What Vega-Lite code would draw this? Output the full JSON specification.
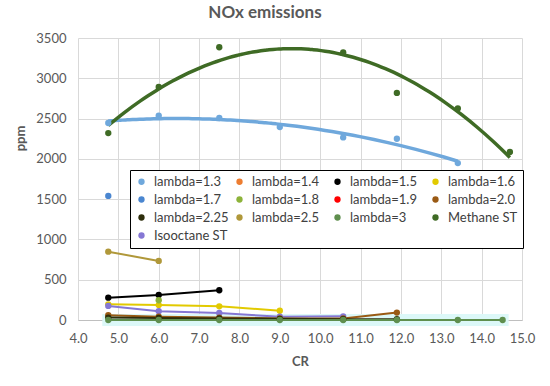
{
  "$schema": "https://vega.github.io/schema/vega-lite/v6.json",
  "width": 444,
  "height": 282,
  "autosize": "none",
  "padding": {"left": 78, "top": 38, "right": 28, "bottom": 66},
  "background": "white",
  "title": {"text": "NOx emissions", "fontSize": 17, "font": "Lato", "fontWeight": "bold", "color": "#595959", "anchor": "middle", "dx": -35, "offset": 10},
  "data": {"values": [
    {"s": "lambda=1.3", "x": 4.75, "y": 2445}, {"s": "lambda=1.3", "x": 6.0, "y": 2536}, {"s": "lambda=1.3", "x": 7.5, "y": 2507}, {"s": "lambda=1.3", "x": 9.0, "y": 2395}, {"s": "lambda=1.3", "x": 10.57, "y": 2266}, {"s": "lambda=1.3", "x": 11.9, "y": 2250}, {"s": "lambda=1.3", "x": 13.41, "y": 1948},
    {"s": "Methane ST", "x": 4.75, "y": 2320}, {"s": "Methane ST", "x": 6.0, "y": 2893}, {"s": "Methane ST", "x": 7.5, "y": 3385}, {"s": "Methane ST", "x": 10.57, "y": 3322}, {"s": "Methane ST", "x": 11.9, "y": 2818}, {"s": "Methane ST", "x": 13.41, "y": 2626}, {"s": "Methane ST", "x": 14.7, "y": 2085},
    {"s": "lambda=1.7", "x": 4.75, "y": 1540},
    {"s": "lambda=2.5", "x": 4.75, "y": 848}, {"s": "lambda=2.5", "x": 6.0, "y": 733},
    {"s": "lambda=1.5", "x": 4.75, "y": 277}, {"s": "lambda=1.5", "x": 6.0, "y": 311}, {"s": "lambda=1.5", "x": 7.5, "y": 369},
    {"s": "lambda=1.6", "x": 4.75, "y": 195}, {"s": "lambda=1.6", "x": 6.0, "y": 185}, {"s": "lambda=1.6", "x": 7.5, "y": 170}, {"s": "lambda=1.6", "x": 9.0, "y": 115},
    {"s": "lambda=1.8", "x": 6.0, "y": 245},
    {"s": "Isooctane ST", "x": 4.75, "y": 175}, {"s": "Isooctane ST", "x": 6.0, "y": 110}, {"s": "Isooctane ST", "x": 7.5, "y": 88}, {"s": "Isooctane ST", "x": 9.0, "y": 40}, {"s": "Isooctane ST", "x": 10.57, "y": 45},
    {"s": "lambda=2.0", "x": 4.75, "y": 60}, {"s": "lambda=2.0", "x": 6.0, "y": 40}, {"s": "lambda=2.0", "x": 7.5, "y": 30}, {"s": "lambda=2.0", "x": 9.0, "y": 20}, {"s": "lambda=2.0", "x": 10.57, "y": 20}, {"s": "lambda=2.0", "x": 11.9, "y": 92},
    {"s": "lambda=2.25", "x": 4.75, "y": 30}, {"s": "lambda=2.25", "x": 6.0, "y": 25}, {"s": "lambda=2.25", "x": 7.5, "y": 20}, {"s": "lambda=2.25", "x": 9.0, "y": 15}, {"s": "lambda=2.25", "x": 10.57, "y": 10}, {"s": "lambda=2.25", "x": 11.9, "y": 10},
    {"s": "lambda=3", "x": 4.75, "y": 0}, {"s": "lambda=3", "x": 6.0, "y": 0}, {"s": "lambda=3", "x": 7.5, "y": 0}, {"s": "lambda=3", "x": 9.0, "y": 0}, {"s": "lambda=3", "x": 10.57, "y": 0}, {"s": "lambda=3", "x": 11.9, "y": 0}, {"s": "lambda=3", "x": 13.41, "y": 0}, {"s": "lambda=3", "x": 14.52, "y": 0}
  ]},
  "encoding": {
    "x": {"field": "x", "type": "quantitative", "title": "CR",
      "scale": {"domain": [4, 15], "nice": false, "zero": false},
      "axis": {"values": [4,5,6,7,8,9,10,11,12,13,14,15], "format": ".1f", "labelFlush": false, "labelOverlap": false}},
    "y": {"field": "y", "type": "quantitative", "title": "ppm",
      "scale": {"domain": [0, 3500], "nice": false},
      "axis": {"values": [0,500,1000,1500,2000,2500,3000,3500], "format": "d", "titleY": 100, "labelFlush": false}}
  },
  "layer": [
    {
      "transform": [{"filter": "datum.s === 'lambda=3'"}],
      "mark": {"type": "line", "strokeWidth": 12, "color": "#dcf8f8", "strokeCap": "square"},
      "encoding": {}
    },
    {
      "transform": [{"filter": "datum.s !== 'lambda=1.3' && datum.s !== 'Methane ST'"}],
      "mark": {"type": "line", "strokeWidth": 2},
      "encoding": {"color": {"field": "s", "type": "nominal"}}
    },
    {
      "transform": [
        {"filter": "datum.s === 'lambda=1.3' || datum.s === 'Methane ST'"},
        {"regression": "y", "on": "x", "groupby": ["s"], "method": "poly", "order": 2}
      ],
      "mark": {"type": "line", "strokeWidth": 3.5, "interpolate": "monotone"},
      "encoding": {"color": {"field": "s", "type": "nominal"}}
    },
    {
      "mark": {"type": "point", "filled": true, "size": 40, "opacity": 1},
      "encoding": {
        "color": {"field": "s", "type": "nominal",
          "scale": {
            "domain": ["lambda=1.3", "lambda=1.4", "lambda=1.5", "lambda=1.6", "lambda=1.7", "lambda=1.8", "lambda=1.9", "lambda=2.0", "lambda=2.25", "lambda=2.5", "lambda=3", "Methane ST", "Isooctane ST"],
            "range": ["#6FA8DC", "#ED7D31", "#000000", "#E2CA00", "#4A86D0", "#8DB33A", "#FF0000", "#9A5A14", "#2E2E0C", "#B0983A", "#5F8F4E", "#3F6B25", "#8577D4"]
          },
          "legend": {"title": null, "symbolType": "circle", "symbolStrokeWidth": 0, "symbolOpacity": 1, "direction": "horizontal"}
        }
      }
    }
  ],
  "config": {
    "font": "Lato",
    "view": {"stroke": null},
    "axis": {
      "labelFont": "Lato", "labelFontSize": 13, "labelColor": "#595959",
      "titleFont": "Lato", "titleFontSize": 13, "titleColor": "#595959", "titleFontWeight": "bold",
      "gridColor": "#d9d9d9", "domain": false, "ticks": false, "labelPadding": 12
    },
    "axisX": {"titlePadding": 10, "domain": true, "domainColor": "#bfbfbf"},
    "axisY": {"titlePadding": 8},
    "legend": {
      "orient": "none", "legendX": 52, "legendY": 132, "direction": "horizontal",
      "columns": 4, "gridAlign": "all",
      "strokeColor": "#000000", "fillColor": "#ffffff", "padding": 5,
      "symbolType": "circle", "symbolSize": 40, "symbolOffset": 0,
      "labelFont": "Lato", "labelFontSize": 13, "labelColor": "#404040",
      "labelOffset": 6, "rowPadding": 4, "columnPadding": 4, "labelLimit": 200
    }
  }
}
